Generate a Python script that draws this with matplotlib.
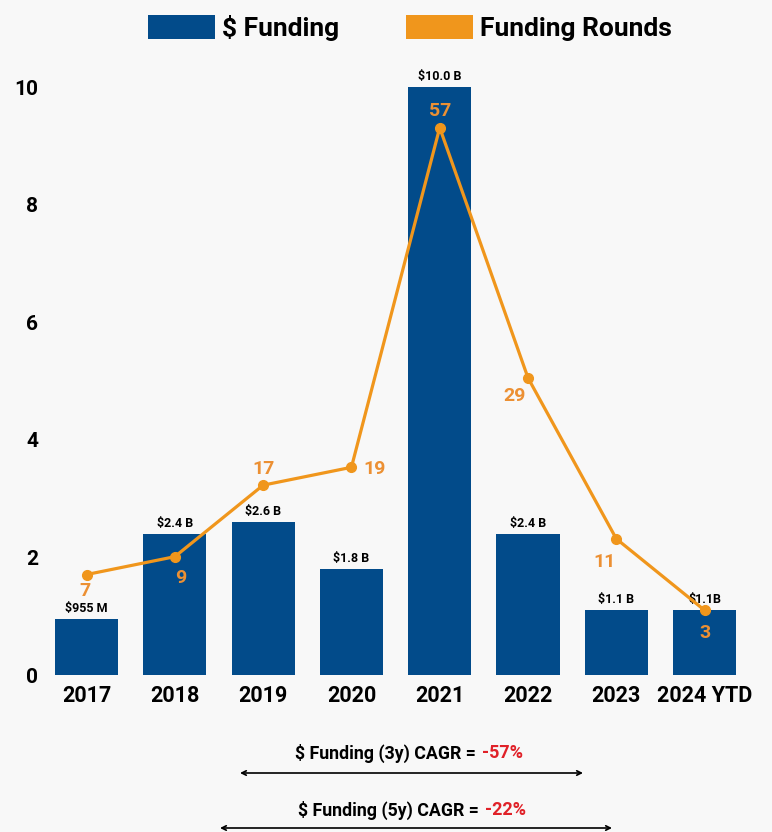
import matplotlib.pyplot as plt
from matplotlib.patches import Patch

plt.rcParams['font.family'] = ['Roboto', 'DejaVu Sans']

years = ["2017", "2018", "2019", "2020", "2021", "2022", "2023", "2024 YTD"]
funding = [0.955, 2.4, 2.6, 1.8, 10.0, 2.4, 1.1, 1.1]  # $B
funding_labels = ["$955 M", "$2.4 B", "$2.6 B", "$1.8 B", "$10.0 B", "$2.4 B", "$1.1 B", "$1.1B"]
rounds = [7, 9, 17, 19, 57, 29, 11, 3]

blue = "#024b8a"
orange = "#f0961c"
orange_txt = "#ec9033"

fig = plt.figure(figsize=(7.72, 8.32), dpi=100, facecolor="#f8f8f8")
ax = fig.add_axes([0.0606, 0.1887, 0.9036, 0.7067])
ax.set_facecolor("none")

x = range(len(years))
bars = ax.bar(x, funding, width=0.715, color=blue)
ax.bar_label(bars, labels=funding_labels, padding=3, fontsize=9, fontweight="bold")

ax.set_xlim(-0.45, 7.45)
ax.set_ylim(0, 10)
ax.set_yticks([0, 2, 4, 6, 8, 10])
ax.set_xticks(list(x))
ax.set_xticklabels(years)
for s in ax.spines.values():
    s.set_visible(False)
ax.tick_params(axis="both", length=0)
ax.tick_params(axis="y", pad=6, labelsize=15)
ax.tick_params(axis="x", pad=7, labelsize=15.5)
for t in ax.get_xticklabels() + ax.get_yticklabels():
    t.set_fontweight("bold")

# rounds on hidden second axis
ax2 = ax.twinx()
ax2.set_ylim(-4.24, 61.55)
ax2.axis("off")
ax2.plot(list(x), rounds, color=orange, lw=2.3, marker="o", ms=7)

# label offsets (points) around each marker
offsets = [(-1, -12), (4, -15), (0, 12), (16.5, -1.5), (0, 12), (-9.5, -13), (-8.5, -16.5), (0, -16)]
for xi, r, off in zip(x, rounds, offsets):
    ax2.annotate(str(r), (xi, r), xytext=off, textcoords="offset points",
                 ha="center", va="center", fontsize=14, fontweight="bold", color=orange_txt)

# legend
handles = [Patch(facecolor=blue, label="$ Funding"), Patch(facecolor=orange, label="Funding Rounds")]
fig.legend(handles=handles, loc="center", bbox_to_anchor=(0.531, 0.966), ncol=2, frameon=False,
           prop={"size": 19, "weight": "bold"}, handlelength=2.54, handleheight=1.02,
           handletextpad=0.3, columnspacing=2.5)

# CAGR notes
W, H = 772, 832
notes = [("$ Funding (3y) CAGR =", "-57%", 476, 753, 240, 583, 773),
         ("$ Funding (5y) CAGR =", "-22%", 479, 810, 220, 612, 828)]
for txt, pct, xs, ty, a0, a1, ay in notes:
    fig.text(xs / W, 1 - ty / H, txt, ha="right", va="center", fontsize=12.8, fontweight="bold")
    fig.text((xs + 6) / W, 1 - ty / H, pct, ha="left", va="center", fontsize=13,
             fontweight="bold", color="#e02128")
    fig.add_artist(plt.Annotation("", xy=(a1 / W, 1 - ay / H), xytext=(a0 / W, 1 - ay / H),
                                  xycoords="figure fraction", textcoords="figure fraction",
                                  arrowprops=dict(arrowstyle="<->", lw=1.2, color="black",
                                                  mutation_scale=8, shrinkA=0, shrinkB=0)))

fig.savefig("out.png", dpi=100, facecolor=fig.get_facecolor())
